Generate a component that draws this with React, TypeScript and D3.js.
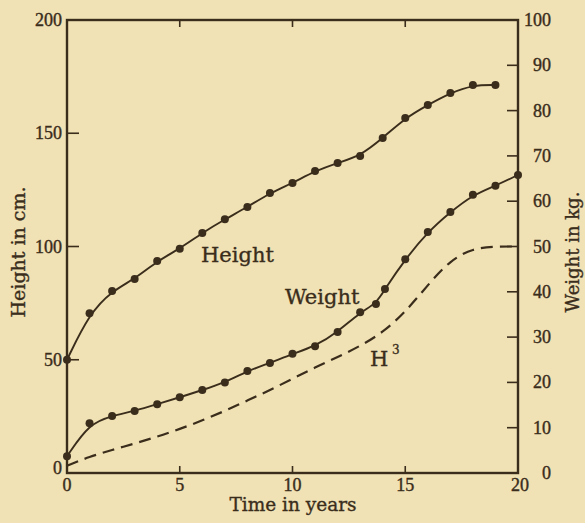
import React from 'react';
import * as d3 from 'd3';

// ages (years) where points were plotted
const heightYears = [0, 1, 2, 3, 4, 5, 6, 7, 8, 9, 10, 11, 12, 13, 14, 15, 16, 17, 18, 19];
const heightCm = [50, 70.5, 80.4, 85.6, 93.6, 99, 106, 112, 117.4, 123.6, 128, 133.3, 136.9, 140, 147.9, 156.7, 162.5, 167.8, 171.3, 171.3];

const weightYears = [0, 1, 2, 3, 4, 5, 6, 7, 8, 9, 10, 11, 12, 13, 13.7, 14.1, 15, 16, 17, 18, 19, 20];
const weightKg = [3.7, 11, 12.6, 13.7, 15.2, 16.7, 18.3, 20, 22.5, 24.3, 26.3, 28, 31.1, 35.5, 37.3, 40.6, 47.2, 53.2, 57.6, 61.4, 63.4, 65.8];

// H^3 curve (scaled to the kg axis)
const cubeYears = [0, 1, 2, 3, 4, 5, 6, 7, 8, 9, 10, 11, 12, 13, 14, 15, 16, 17, 18, 19, 20];
const cubeKg = [1.6, 3.6, 5.1, 6.5, 8.0, 9.7, 11.6, 13.7, 16.0, 18.3, 20.8, 23.3, 25.6, 28.0, 31.0, 35.5, 41.5, 47.0, 49.6, 50, 50];

const xTicks = [0, 5, 10, 15, 20];
const leftTicks = [0, 50, 100, 150, 200];
const rightTicks = [0, 10, 20, 30, 40, 50, 60, 70, 80, 90, 100];

const W = 585;
const H = 523;
const ink = '#3a2d1c';
const paper = '#f0e2b4';
const serif = '"DejaVu Serif", "Liberation Serif", serif';
const digits = '"Liberation Serif", "DejaVu Serif", serif';

const App: React.FC = () => {
  const x = d3.scaleLinear().domain([0, 20]).range([67, 518]);
  const yL = d3.scaleLinear().domain([0, 200]).range([473, 20]);
  const yR = d3.scaleLinear().domain([0, 100]).range([473, 20]);

  const heightLine = d3.line<number>()
    .x((_, i) => x(heightYears[i]))
    .y(d => yL(d))
    .curve(d3.curveBasis);

  const weightLine = d3.line<number>()
    .x((_, i) => x(weightYears[i]))
    .y(d => yR(d))
    .curve(d3.curveBasis);

  const cubeLine = d3.line<number>()
    .x((_, i) => x(cubeYears[i]))
    .y(d => yR(d))
    .curve(d3.curveBasis);

  const txt = { fontFamily: serif, fill: ink, stroke: ink, strokeWidth: 0.35 };
  const num = { fontFamily: digits, fill: ink, stroke: ink, strokeWidth: 0.4, fontSize: 18 };

  return (
    <svg width={W} height={H} style={{ position: 'absolute', left: 0, top: 0 }}>
      <rect width={W} height={H} fill={paper} />

      {/* frame */}
      <rect x={x(0)} y={yL(200)} width={x(20) - x(0)} height={yL(0) - yL(200)}
        fill="none" stroke={ink} strokeWidth={2.4} />

      {/* bottom ticks and labels */}
      {xTicks.map(t => (
        <g key={'x' + t}>
          {t > 0 && t < 20 && (
            <>
              <line x1={x(t)} x2={x(t)} y1={yL(0)} y2={yL(0) - 7} stroke={ink} strokeWidth={1.6} />
              <line x1={x(t)} x2={x(t)} y1={yL(200)} y2={yL(200) + 7} stroke={ink} strokeWidth={1.6} />
            </>
          )}
          <text x={x(t) + (t === 20 ? 2 : 0)} y={yL(0) + 18} textAnchor="middle" {...num}>{t}</text>
        </g>
      ))}

      {/* left axis */}
      {leftTicks.map(t => (
        <g key={'l' + t}>
          {t > 0 && t < 200 && (
            <line x1={x(0)} x2={x(0) + 12} y1={yL(t)} y2={yL(t)} stroke={ink} strokeWidth={1.6} />
          )}
          <text x={x(0) - 5} y={yL(t) + (t === 0 ? 1 : 6)} textAnchor="end" {...num}>{t}</text>
        </g>
      ))}

      {/* right axis */}
      {rightTicks.map(t => (
        <g key={'r' + t}>
          {t > 0 && t < 100 && (
            <line x1={x(20) - 11} x2={x(20)} y1={yR(t)} y2={yR(t)} stroke={ink} strokeWidth={1.6} />
          )}
          <text x={551} y={yR(t) + 6} textAnchor="end" {...num}>{t}</text>
        </g>
      ))}

      {/* axis titles */}
      <text transform={`translate(25,252) rotate(-90)`} textAnchor="middle"
        fontSize={19} {...txt}>Height in cm.</text>
      <text transform={`translate(579,252) rotate(-90)`} textAnchor="middle"
        fontSize={18} {...txt}>Weight in kg.</text>
      <text x={293} y={511} textAnchor="middle"
        fontSize={18.5} {...txt}>Time in years</text>

      {/* curves */}
      <path d={cubeLine(cubeKg) || ''} fill="none" stroke={ink} strokeWidth={2.2}
        strokeDasharray="12,7" />
      <path d={heightLine(heightCm) || ''} fill="none" stroke={ink} strokeWidth={1.9} />
      <path d={weightLine(weightKg) || ''} fill="none" stroke={ink} strokeWidth={1.9} />

      {heightCm.map((v, i) => (
        <circle key={'h' + i} cx={x(heightYears[i])} cy={yL(v)} r={4} fill={ink} />
      ))}
      {weightKg.map((v, i) => (
        <circle key={'w' + i} cx={x(weightYears[i])} cy={yR(v)} r={4} fill={ink} />
      ))}

      {/* curve labels */}
      <text x={201} y={262} fontSize={21} {...txt}>Height</text>
      <text x={285} y={304} fontSize={21} {...txt}>Weight</text>
      <text x={370} y={366} fontSize={21} {...txt}>H</text>
      <text x={392} y={354} fontSize={12} {...txt}>3</text>
    </svg>
  );
};

export default App;
